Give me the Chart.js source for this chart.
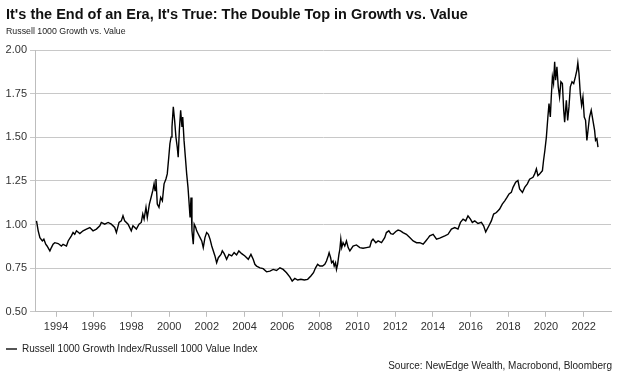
<!DOCTYPE html>
<html>
<head>
<meta charset="utf-8">
<script src="https://cdn.jsdelivr.net/npm/chart.js@4/dist/chart.umd.min.js"></script>
<style>
  body { margin: 0; background: #fff; font-family: "Liberation Sans", Arial, sans-serif; }
  #wrap { position: relative; width: 624px; height: 381px; }
  #chart { position: absolute; left: 0; top: 0; }
  .title { position: absolute; left: 6px; top: 6px; font-size: 14.5px; line-height: 16px; font-weight: bold; color: #111; white-space: nowrap; }
  .subtitle { position: absolute; left: 6px; top: 26px; font-size: 8.8px; line-height: 11px; color: #222; white-space: nowrap; }
  .source { position: absolute; right: 12px; top: 360px; font-size: 10px; line-height: 12px; color: #222; white-space: nowrap; }
</style>
</head>
<body>
<div id="wrap">
  <canvas id="chart"></canvas>
  <div class="title">It's the End of an Era, It's True: The Double Top in Growth vs. Value</div>
  <div class="subtitle">Russell 1000 Growth vs. Value</div>
  <div class="source">Source: NewEdge Wealth, Macrobond, Bloomberg</div>
</div>
<script>
// Russell 1000 Growth / Russell 1000 Value (decimal years)
const years = [
  1992.96, 1993.05, 1993.14, 1993.27, 1993.35, 1993.45, 1993.52, 1993.67, 1993.75, 1993.84, 1993.93,
  1994.11, 1994.28, 1994.37, 1994.55, 1994.64, 1994.81, 1994.90, 1994.99,
  1995.08, 1995.26, 1995.43, 1995.61, 1995.79, 1995.96,
  1996.14, 1996.32, 1996.40, 1996.58, 1996.76, 1996.93,
  1997.11, 1997.20, 1997.34, 1997.46, 1997.55, 1997.64, 1997.82, 1997.99,
  1998.08, 1998.26, 1998.40, 1998.52, 1998.60, 1998.67, 1998.77, 1998.84, 1998.95,
  1999.04, 1999.13, 1999.20, 1999.25, 1999.30, 1999.37, 1999.46, 1999.55, 1999.64, 1999.73, 1999.83, 1999.90, 1999.98,
  2000.04, 2000.10, 2000.15, 2000.22, 2000.29, 2000.36, 2000.43, 2000.48, 2000.54, 2000.61, 2000.68, 2000.72, 2000.79, 2000.86, 2000.93,
  2001.00, 2001.05, 2001.11, 2001.16, 2001.21, 2001.28, 2001.33, 2001.41, 2001.46, 2001.55, 2001.64, 2001.73, 2001.81, 2001.90, 2001.99,
  2002.08, 2002.17, 2002.26, 2002.43, 2002.52, 2002.61, 2002.75, 2002.82, 2002.92,
  2003.05, 2003.17, 2003.32, 2003.45, 2003.58, 2003.70, 2003.85,
  2004.02, 2004.20, 2004.34, 2004.46, 2004.55, 2004.64, 2004.82, 2004.99,
  2005.17, 2005.35, 2005.52, 2005.70, 2005.88,
  2006.05, 2006.23, 2006.41, 2006.53, 2006.67, 2006.82, 2006.99,
  2007.17, 2007.35, 2007.52, 2007.66, 2007.77, 2007.88,
  2008.00, 2008.14, 2008.26, 2008.35, 2008.44, 2008.49, 2008.57, 2008.62, 2008.70, 2008.76, 2008.83, 2008.88, 2008.94,
  2009.01, 2009.06, 2009.11, 2009.16, 2009.23, 2009.32, 2009.41, 2009.50, 2009.59, 2009.68, 2009.76, 2009.94,
  2010.12, 2010.29, 2010.47, 2010.65, 2010.74, 2010.82, 2010.97,
  2011.09, 2011.27, 2011.44, 2011.53, 2011.66, 2011.76, 2011.88,
  2012.03, 2012.15, 2012.28, 2012.41, 2012.59, 2012.77, 2012.95,
  2013.13, 2013.30, 2013.48, 2013.62, 2013.74, 2013.83,
  2014.01, 2014.19, 2014.36, 2014.63, 2014.80, 2014.98,
  2015.16, 2015.33, 2015.46, 2015.60, 2015.74, 2015.86, 2015.99,
  2016.09, 2016.22, 2016.39, 2016.57, 2016.69, 2016.80, 2016.97,
  2017.10, 2017.22, 2017.37, 2017.54, 2017.68, 2017.81, 2017.93,
  2018.04, 2018.16, 2018.25, 2018.39, 2018.51, 2018.60, 2018.75, 2018.87,
  2019.01, 2019.13, 2019.31, 2019.40, 2019.49, 2019.57, 2019.66, 2019.81, 2019.87, 2019.94,
  2020.02, 2020.10, 2020.16, 2020.23, 2020.28, 2020.34, 2020.40, 2020.46, 2020.51, 2020.58, 2020.65, 2020.72, 2020.79, 2020.87, 2020.94, 2020.99,
  2021.08, 2021.15, 2021.22, 2021.29, 2021.38, 2021.47, 2021.56, 2021.64, 2021.69, 2021.75, 2021.82, 2021.89, 2021.96,
  2022.03, 2022.10, 2022.17, 2022.25, 2022.31, 2022.40, 2022.49, 2022.58, 2022.63, 2022.70, 2022.76
];
const ratio = [
  1.021, 0.964, 0.925, 0.906, 0.916, 0.887, 0.877, 0.849, 0.868, 0.887, 0.896,
  0.891, 0.877, 0.887, 0.877, 0.906, 0.935, 0.954, 0.944,
  0.964, 0.948, 0.964, 0.974, 0.983, 0.964,
  0.974, 0.993, 1.012, 1.002, 1.012, 1.002,
  0.983, 0.954, 1.012, 1.021, 1.050, 1.021, 1.002, 0.964,
  0.993, 0.974, 1.002, 1.012, 1.060, 1.031, 1.098, 1.040, 1.117,
  1.155, 1.194, 1.233, 1.194, 1.261, 1.117, 1.098, 1.155, 1.136, 1.233, 1.261, 1.290, 1.386,
  1.463, 1.501, 1.558, 1.674, 1.597, 1.501, 1.443, 1.386, 1.539, 1.655, 1.559, 1.616, 1.482, 1.386, 1.290,
  1.213, 1.136, 1.040, 1.155, 0.964, 0.887, 1.002, 0.983, 0.964, 0.944, 0.925, 0.906, 0.868, 0.925, 0.954,
  0.944, 0.916, 0.877, 0.820, 0.781, 0.810, 0.829, 0.849, 0.833,
  0.801, 0.829, 0.820, 0.839, 0.826, 0.849, 0.833,
  0.820, 0.801, 0.829, 0.801, 0.772, 0.762, 0.752, 0.747,
  0.729, 0.733, 0.743, 0.737, 0.752,
  0.743, 0.724, 0.699, 0.676, 0.691, 0.682, 0.686,
  0.682, 0.686, 0.705, 0.724, 0.752, 0.772,
  0.762, 0.762, 0.772, 0.791, 0.820, 0.839, 0.810, 0.781, 0.791, 0.762, 0.781, 0.743, 0.772,
  0.829, 0.858, 0.916, 0.868, 0.896, 0.877, 0.906, 0.868, 0.849, 0.864, 0.877, 0.883,
  0.868, 0.864, 0.868, 0.872, 0.906, 0.916, 0.896,
  0.906, 0.896, 0.925, 0.954, 0.964, 0.948, 0.944,
  0.960, 0.968, 0.964, 0.954, 0.944, 0.925, 0.906,
  0.896, 0.896, 0.887, 0.906, 0.922, 0.935,
  0.944, 0.916, 0.922, 0.935, 0.944, 0.974,
  0.983, 0.974, 1.012, 1.031, 1.021, 1.050, 1.031,
  1.012, 1.021, 1.006, 1.012, 0.993, 0.958, 0.993,
  1.021, 1.060, 1.069, 1.089, 1.117, 1.136, 1.155,
  1.175, 1.184, 1.213, 1.242, 1.252, 1.204, 1.184, 1.213,
  1.233, 1.260, 1.271, 1.290, 1.319, 1.280, 1.290, 1.309, 1.367, 1.424,
  1.501, 1.616, 1.693, 1.616, 1.731, 1.846, 1.808, 1.933, 1.827, 1.904, 1.789, 1.731, 1.818, 1.808, 1.655, 1.587,
  1.712, 1.597, 1.674, 1.789, 1.818, 1.808, 1.846, 1.885, 1.927, 1.866, 1.751, 1.683, 1.731,
  1.616, 1.597, 1.482, 1.559, 1.616, 1.655, 1.597, 1.539, 1.482, 1.492, 1.443
];
const tickYears = [1994, 1996, 1998, 2000, 2002, 2004, 2006, 2008, 2010, 2012, 2014, 2016, 2018, 2020, 2022];
const seriesName = 'Russell 1000 Growth Index/Russell 1000 Value Index';

const font = 'Liberation Sans, Arial, sans-serif';

const ctx = document.getElementById('chart').getContext('2d');
new Chart(ctx, {
  type: 'line',
  data: {
    datasets: [{
      label: seriesName,
      data: years.map((t, i) => ({ x: t, y: ratio[i] })),
      borderColor: '#000',
      backgroundColor: '#000',
      borderWidth: 1.4,
      pointRadius: 0,
      tension: 0,
    }],
  },
  options: {
    responsive: true,
    maintainAspectRatio: false,
    animation: false,
    layout: { padding: { top: 50, right: 13, left: 0, bottom: 17 } },
    plugins: {
      tooltip: { enabled: false },
      legend: {
        display: true,
        position: 'bottom',
        align: 'start',
        labels: {
          font: { family: font, size: 10 },
          color: '#222',
          boxWidth: 11,
          boxHeight: 2,
          padding: 6,
          generateLabels: (chart) => Chart.defaults.plugins.legend.labels.generateLabels(chart).map(l => ({ ...l, fillStyle: '#555', strokeStyle: '#555', lineWidth: 0 })),
        },
      },
    },
    scales: {
      x: {
        type: 'linear',
        min: 1992.88,
        max: 2023.45,
        afterBuildTicks: (scale) => { scale.ticks = tickYears.map(v => ({ value: v })); },
        ticks: {
          font: { family: font, size: 11 },
          color: '#333',
          padding: 4,
          maxRotation: 0,
          autoSkip: false,
          callback: (v) => String(v),
        },
        grid: { drawOnChartArea: false, drawTicks: true, tickLength: 5, color: '#bdbdbd' },
        border: { display: true, color: '#bdbdbd' },
      },
      y: {
        min: 0.5,
        max: 2.0,
        afterFit: (scale) => { scale.width = 35; },
        ticks: {
          stepSize: 0.25,
          font: { family: font, size: 11 },
          color: '#333',
          padding: 3,
          callback: (v) => v.toFixed(2),
        },
        grid: { color: '#c8c8c8', tickLength: 5, drawTicks: true },
        border: { display: true, color: '#bdbdbd' },
      },
    },
  },
});
</script>
</body>
</html>
